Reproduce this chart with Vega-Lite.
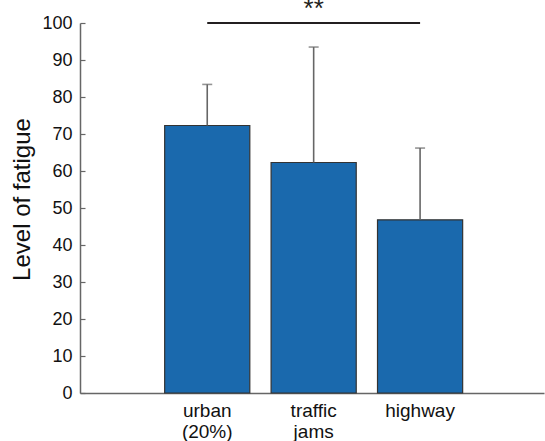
{
  "$schema": "https://vega.github.io/schema/vega-lite/v6.json",
  "width": 464,
  "height": 370,
  "autosize": {"type": "none"},
  "padding": {"left": 80, "top": 23, "right": 1, "bottom": 48},
  "background": "white",
  "config": {
    "view": {"stroke": null},
    "font": "Liberation Sans",
    "axis": {"grid": false, "zindex": 1, "domainColor": "#666666", "tickColor": "#666666", "labelColor": "#111111", "titleColor": "#111111", "labelFont": "Liberation Sans", "titleFont": "Liberation Sans", "labelFontSize": 18, "domainWidth": 1.5, "tickWidth": 1.2, "tickSize": -5},
    "axisY": {"tickCount": 10, "labelOverlap": false, "labelPadding": 13, "titleFontSize": 24, "titleFontWeight": "normal", "titleY": 176, "titlePadding": 7}
  },
  "data": {
    "values": [
      {"condition": "urban (20%)", "fatigue": 72.3, "upper": 83.4},
      {"condition": "traffic jams", "fatigue": 62.3, "upper": 93.5},
      {"condition": "highway", "fatigue": 46.8, "upper": 66.2}
    ]
  },
  "encoding": {
    "x": {
      "field": "condition",
      "type": "nominal",
      "sort": null,
      "scale": {"paddingInner": 0.2, "paddingOuter": 0.78, "align": 0.51},
      "axis": {"title": null, "labelAngle": 0, "labelPadding": 13, "labelFontSize": 19, "labelLineHeight": 21, "labelBaseline": "top", "labelExpr": "split(datum.label, ' ')"}
    }
  },
  "layer": [
    {
      "mark": {"type": "bar", "color": "#1a69ad", "stroke": "#333333", "strokeWidth": 1.2},
      "encoding": {
        "y": {
          "field": "fatigue",
          "type": "quantitative",
          "scale": {"domain": [0, 100], "nice": false},
          "axis": {"title": "Level of fatigue"}
        }
      }
    },
    {
      "mark": {"type": "rule", "color": "#666666", "strokeWidth": 1.6},
      "encoding": {
        "y": {"field": "fatigue", "type": "quantitative"},
        "y2": {"field": "upper"}
      }
    },
    {
      "mark": {"type": "tick", "color": "#666666", "size": 10, "thickness": 1.6},
      "encoding": {
        "y": {"field": "upper", "type": "quantitative"}
      }
    },
    {
      "data": {"values": [{"from": "urban (20%)", "to": "highway", "level": 100, "mark": "**"}]},
      "layer": [
        {
          "mark": {"type": "rule", "color": "#231f20", "strokeWidth": 2},
          "encoding": {
            "x": {"field": "from", "type": "nominal", "sort": null},
            "x2": {"field": "to"},
            "y": {"field": "level", "type": "quantitative"}
          }
        },
        {
          "mark": {"type": "text", "fontSize": 26, "baseline": "alphabetic", "dy": -6, "font": "Liberation Sans", "color": "#231f20"},
          "encoding": {
            "x": {"datum": "traffic jams", "type": "nominal"},
            "y": {"field": "level", "type": "quantitative"},
            "text": {"field": "mark"}
          }
        }
      ]
    }
  ]
}
